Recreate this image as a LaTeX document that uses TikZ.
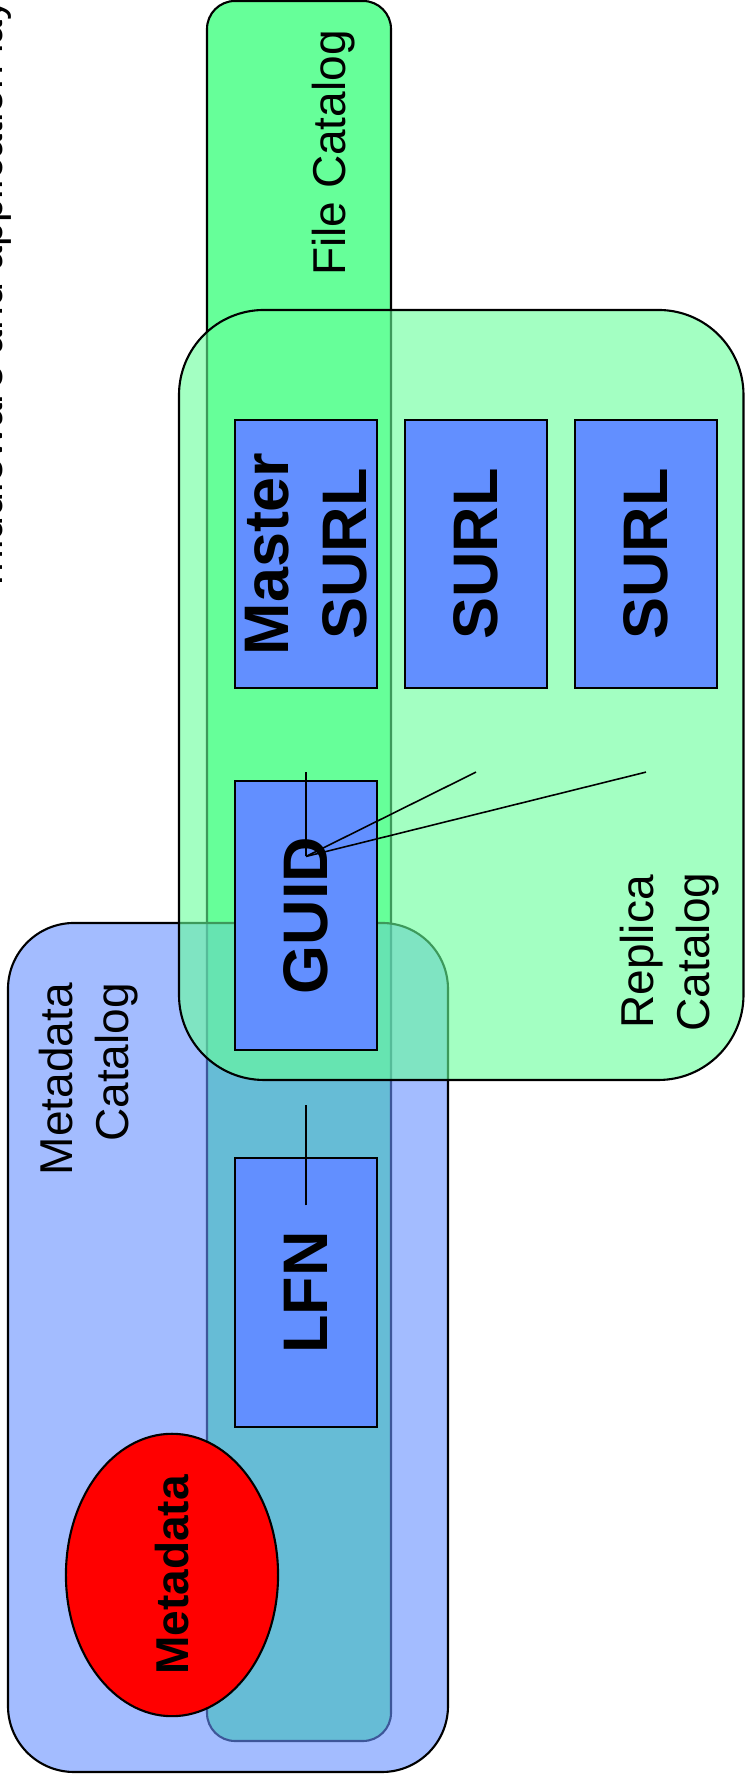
\documentclass[tikz,border=0pt]{standalone}
\usepackage{fontspec}
\setmainfont{Liberation Sans}
\usetikzlibrary{calc}
\usetikzlibrary{shapes.geometric}
\definecolor{filegreen}{RGB}{102,255,153}
\definecolor{metablue}{RGB}{102,144,255}
\definecolor{idblue}{RGB}{98,143,255}
\newcommand{\catalog}[6]{\filldraw[line width=0.6pt, #6, rounded corners=#5] ( #1 , #2 ) rectangle ( #3 , #4 );}
\newcommand{\catfont}{\fontsize{13.1}{15.9}\selectfont}
\newcommand{\idfont}{\fontsize{17.9}{22.2}\selectfont\bfseries}

\begin{document}
\begin{tikzpicture}[rotate=90, transform shape, x=0.01cm, y=0.01cm,
        idbox/.style={draw, line width=0.6pt, fill=idblue, minimum width=2.68cm,
            minimum height=1.42cm, inner sep=0pt, align=center, font=\idfont},
        metadot/.style={ellipse, draw, line width=0.6pt, fill=red, minimum width=2.67cm,
            minimum height=2.12cm, inner sep=0pt, font=\catfont\bfseries},
        catlabel/.style={inner sep=0pt, font=\catfont},
        link/.style={line width=0.45pt}]
        \useasboundingbox (0,0) rectangle (1783,745);
        % catalogs, file catalog at the back
        \catalog{42}{354}{1782}{538}{0.28cm}{fill=filegreen}
        \catalog{11}{297}{860}{737}{0.66cm}{fill=metablue, fill opacity=0.6}
        \catalog{703}{1.5}{1473}{566}{0.85cm}{fill=filegreen, fill opacity=0.6}
        % catalog labels
        \node[catlabel, font=\fontsize{12.2}{14.6}\selectfont, anchor=base west] (layer) at (1197,742.5) {middleware and application layer};
        \node[catlabel, anchor=base] (filelbl) at (1630,400) {File Catalog};
        \node[catlabel, align=center] (replbl) at (831,75) {Replica\\Catalog};
        \node[catlabel, align=right] (metalbl) at (704,656) {Metadata\\Catalog};
        % names
        \node[idbox] (msurl) at (1229,439) {Master\\SURL};
        \node[idbox] (surlb) at (1229,269) {SURL};
        \node[idbox] (surlc) at (1229,99) {SURL};
        \node[idbox] (guid) at (867.5,439) {GUID};
        \node[idbox] (lfn) at (490.5,439) {LFN};
        \node[metadot] (meta) at (208,573) {Metadata};
        % links
        \coordinate (hub) at ($(guid)+(59,0)$);
        \coordinate (tapa) at ($(msurl.west)+(-83,0)$);
        \coordinate (tapb) at ($(surlb.west)+(-83,0)$);
        \coordinate (tapc) at ($(surlc.west)+(-83,0)$);
        \coordinate (lfnend) at ($(lfn.east)+(-48,0)$);
        \coordinate (guidend) at ($(guid.west)+(-54,0)$);
        \draw[link] (hub) -- (tapa);
        \draw[link] (hub) -- (tapb);
        \draw[link] (hub) -- (tapc);
        \draw[link] (lfnend) -- (guidend);
    \end{tikzpicture}
\end{document}
